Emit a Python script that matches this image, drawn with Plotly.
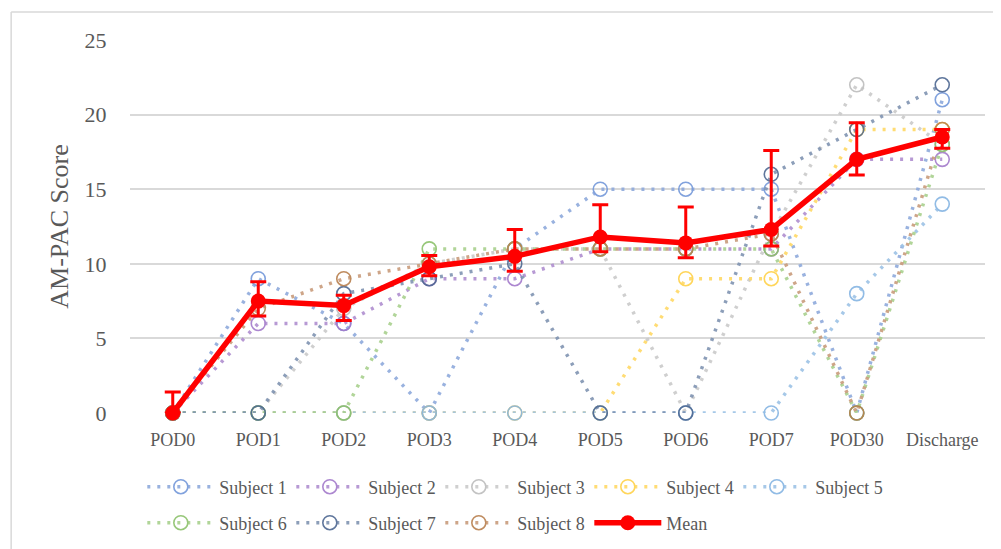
import plotly.graph_objects as go

categories = ["POD0", "POD1", "POD2", "POD3", "POD4", "POD5", "POD6", "POD7", "POD30", "Discharge"]

subject_1 = [0, 9, 6, 0, 11, 15, 15, 15, 0, 21]
subject_2 = [0, 6, 6, 9, 9, 11, 11, 11, 17, 17]
subject_3 = [0, 0, 7, 10, 11, 11, 0, 12, 22, 18]
subject_4 = [0, 0, 0, 0, 0, 0, 9, 9, 19, 19]
subject_5 = [0, 0, 0, 0, 0, 0, 0, 0, 8, 14]
subject_6 = [0, 0, 0, 11, 11, 11, 11, 11, 0, 18]
subject_7 = [0, 0, 8, 9, 10, 0, 0, 16, 19, 22]
subject_8 = [0, 7, 9, 10, 11, 11, 11, 12, 0, 19]

mean_values = [0, 7.5, 7.2, 9.8, 10.5, 11.8, 11.4, 12.3, 17.0, 18.5]
err_plus = [1.4, 1.3, 0.7, 0.75, 1.8, 2.15, 2.4, 5.3, 2.45, 0.5]
err_minus = [0, 1.0, 1.0, 0.6, 1.0, 1.0, 1.0, 1.1, 1.05, 0.75]

subject_names = ["Subject 1", "Subject 2", "Subject 3", "Subject 4",
                 "Subject 5", "Subject 6", "Subject 7", "Subject 8"]
subject_series = [subject_1, subject_2, subject_3, subject_4,
                  subject_5, subject_6, subject_7, subject_8]
line_colors = ["#8FAADC", "#B08FD0", "#CACACA", "#FFD966",
               "#9DC3E6", "#A9D18E", "#8094B2", "#C99C7C"]
marker_colors = ["#7498DA", "#A47BCB", "#BDBDBD", "#FFD24A",
                 "#86B5E3", "#8CC26B", "#4E6892", "#B9804F"]

FONT = "Liberation Serif"
TXT = "#595959"

fig = go.Figure()

for i, (name, vals) in enumerate(zip(subject_names, subject_series)):
    fig.add_trace(go.Scatter(
        x=categories, y=vals, name=name, mode="lines+markers",
        line=dict(color=line_colors[i], width=3.5, dash="3px,7px"),
        marker=dict(symbol="circle-open", size=14, color=marker_colors[i],
                    line=dict(width=1.6, color=marker_colors[i])),
        opacity=0.9,
        cliponaxis=False,
        legend="legend" if i < 5 else "legend2",
    ))

fig.add_trace(go.Scatter(
    x=categories, y=mean_values, name="Mean", mode="lines+markers",
    line=dict(color="#FF0000", width=5.5),
    marker=dict(symbol="circle", size=15, color="#FF0000"),
    error_y=dict(type="data", symmetric=False, array=err_plus, arrayminus=err_minus,
                 color="#FF0000", thickness=3, width=8),
    cliponaxis=False,
    legend="legend2",
))

legend_common = dict(
    orientation="h", xanchor="left", yanchor="middle",
    xref="paper", yref="container",
    font=dict(family=FONT, size=18, color=TXT),
    itemwidth=67, entrywidth=67, entrywidthmode="pixels",
    bgcolor="rgba(0,0,0,0)", borderwidth=0,
)

fig.update_layout(
    width=1001, height=549,
    margin=dict(l=122, r=24, t=32, b=144, autoexpand=False),
    paper_bgcolor="white", plot_bgcolor="white",
    font=dict(family=FONT, color=TXT),
    showlegend=True,
    legend=dict(x=0.0144, y=1 - 479 / 549, **legend_common),
    legend2=dict(x=0.0144, y=1 - 515 / 549, **legend_common),
    xaxis=dict(
        type="category", categoryorder="array", categoryarray=categories,
        range=[-0.5, 9.5], showgrid=False, showline=False, zeroline=False,
        ticks="outside", ticklen=10, tickcolor="rgba(0,0,0,0)",
        tickfont=dict(family=FONT, size=18, color=TXT),
    ),
    yaxis=dict(
        range=[0, 25], dtick=5, showgrid=True, gridcolor="#D9D9D9", gridwidth=1.5,
        zeroline=False, showline=False,
        ticks="outside", ticklen=18, tickcolor="rgba(0,0,0,0)",
        tickfont=dict(family=FONT, size=22, color=TXT),
        title=dict(text="AM-PAC Score", font=dict(family=FONT, size=26, color=TXT), standoff=8),
    ),
    shapes=[
        dict(type="line", xref="paper", yref="paper", x0=-0.139, x1=1.2, y0=1.075, y1=1.075,
             line=dict(color="#D9D9D9", width=1.5)),
        dict(type="line", xref="paper", yref="paper", x0=-0.139, x1=-0.139, y0=1.075, y1=-0.5,
             line=dict(color="#D9D9D9", width=1.5)),
    ],
)

fig.write_html("out.html")
